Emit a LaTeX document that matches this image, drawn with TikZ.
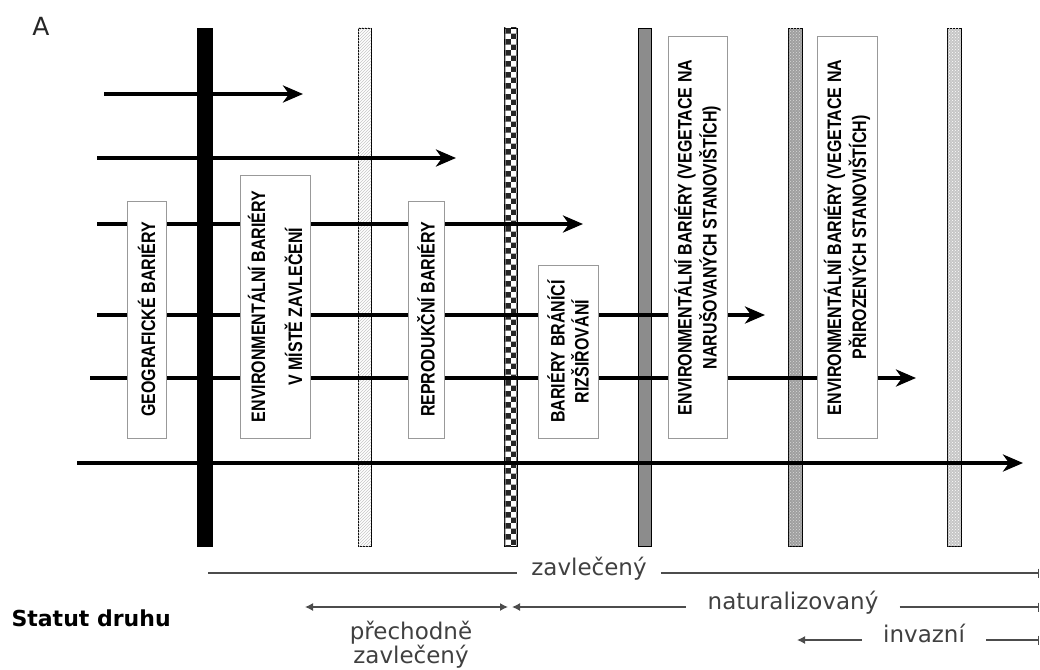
\documentclass[tikz,border=0pt]{standalone}
\usepackage{fontspec}
\setmainfont{DejaVu Sans}
\newfontfamily\barrierfont[FakeStretch=0.82]{Liberation Sans}
\usetikzlibrary{arrows.meta,patterns}

\begin{document}
\begin{tikzpicture}[
  x=1pt, y=-1pt,
  bar/.style={draw=black, line width=0.8pt, minimum width=13pt, minimum height=518pt, inner sep=0pt},
  barrier/.style={draw=gray!80, line width=1pt, fill=white, rotate=90, align=center, inner sep=0pt,
    font=\barrierfont\bfseries\fontsize{19.5}{#1}\selectfont},
  flow/.style={line width=4.5pt, -{Stealth[length=20pt,width=17pt,inset=6pt]}},
  status/.style={line width=1.3pt, draw=black!70},
  statustext/.style={font=\fontsize{23}{28}\selectfont, text=black!75, inner ysep=0pt,
    text height=0.78em, text depth=0.24em},
]
\useasboundingbox (0,0) rectangle (1040,669);

% the barriers as bars
\node[bar, fill=black, minimum width=15pt] (geobar)  at (205,287) {};
\node[bar, fill=white, postaction={pattern=north east lines, pattern color=gray!45}] (envbar) at (364.5,287) {};
\node[bar, fill=white, postaction={pattern=checkerboard, pattern color=black!85}] (reprobar) at (510.5,287) {};
\node[bar, fill=gray!90] (spreadbar) at (644.5,287) {};
\node[bar, fill=gray!75, minimum width=14pt, postaction={pattern=crosshatch dots, pattern color=gray!30}] (disturbbar) at (795,287) {};
\node[bar, fill=gray!45, minimum width=14pt, postaction={pattern=crosshatch dots, pattern color=white}] (naturebar) at (954,287) {};

% how far the species gets
\coordinate (s1) at (104,94);  \coordinate (e1) at (303,94);
\coordinate (s2) at (97,158);  \coordinate (e2) at (456,158);
\coordinate (s3) at (97,224);  \coordinate (e3) at (583,224);
\coordinate (s4) at (97,315);  \coordinate (e4) at (765,315);
\coordinate (s5) at (90,378);  \coordinate (e5) at (916,378);
\coordinate (s6) at (77,463);  \coordinate (e6) at (1023,463);
\draw[flow, line width=3.5pt] (s1) -- (e1);
\draw[flow] (s2) -- (e2);
\draw[flow] (s3) -- (e3);
\draw[flow] (s4) -- (e4);
\draw[flow] (s5) -- (e5);
\draw[flow] (s6) -- (e6);

% barrier boxes
\node[barrier=20, minimum width=237pt, minimum height=39pt] (geo) at (146.5,319.5) {GEOGRAFICKÉ BARIÉRY};
\node[barrier=37, minimum width=263pt, minimum height=70pt] (env) at (275,306.5) {ENVIRONMENTÁLNÍ BARIÉRY\\V MÍSTĚ ZAVLEČENÍ};
\node[barrier=20, minimum width=237pt, minimum height=36pt] (repro) at (426,319.5) {REPRODUKČNÍ BARIÉRY};
\node[barrier=24, minimum width=173pt, minimum height=60pt] (spread) at (568,351.5) {BARIÉRY BRÁNÍCÍ\\RIZŠIŘOVÁNÍ};
\node[barrier=25, minimum width=401pt, minimum height=59pt] (disturb) at (697.5,237.5) {ENVIRONMENTÁLNÍ BARIÉRY (VEGETACE NA\\NARUŠOVANÝCH STANOVIŠTÍCH)};
\node[barrier=25, minimum width=401pt, minimum height=60pt] (nature) at (847,237.5) {ENVIRONMENTÁLNÍ BARIÉRY (VEGETACE NA\\PŘIROZENÝCH STANOVIŠTÍCH)};

\node[font=\fontsize{25}{30}\selectfont, text=black!85] (panel) at (41,26) {A};

% species status
\node[anchor=west, font=\bfseries\fontsize{22}{26}\selectfont] (statut) at (8,618) {Statut druhu};

\coordinate (zs) at (208,573);
\node[statustext, inner xsep=14pt] (zt) at (589,573) {zavlečený};
\coordinate (ze) at (1039,573);
\draw[status] (zs) -- (zt);
\draw[status, -{Bar[width=9pt]}] (zt) -- (ze);

\coordinate (pl) at (305,607);
\coordinate (pr) at (508,607);
\draw[status, {Latex[length=8pt,width=8pt]}-{Latex[length=8pt,width=8pt]}] (pl) -- (pr);
\node[statustext, anchor=base, text height=, text depth=] (pt) at (411,639) {přechodně};
\node[statustext, anchor=base, text height=, text depth=] (pt2) at (411,663) {zavlečený};

\coordinate (nl) at (512,607);
\node[statustext, inner xsep=21pt] (nt) at (793,607) {naturalizovaný};
\coordinate (ne) at (1039,607);
\draw[status, {Latex[length=8pt,width=8pt]}-] (nl) -- (nt);
\draw[status, -{Bar[width=9pt]}] (nt) -- (ne);

\coordinate (il) at (797,640);
\node[statustext, inner xsep=21pt] (it) at (924,640) {invazní};
\coordinate (ie) at (1039,640);
\draw[status, {Latex[length=8pt,width=8pt]}-] (il) -- (it);
\draw[status, -{Bar[width=9pt]}] (it) -- (ie);
\end{tikzpicture}
\end{document}
